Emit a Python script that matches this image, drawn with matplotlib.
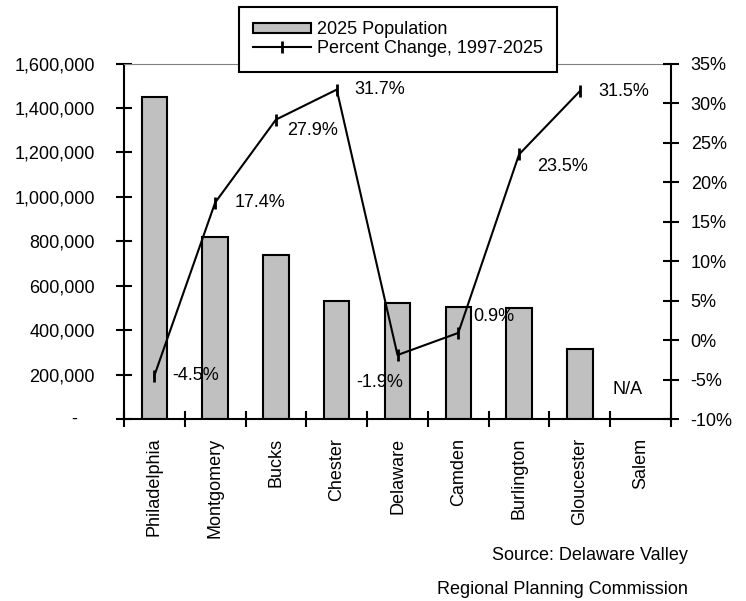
import numpy as np
import matplotlib
matplotlib.use('Agg')
from matplotlib import pyplot as plt
from matplotlib.ticker import FuncFormatter, MultipleLocator

plt.rcParams['font.family'] = ['Liberation Sans', 'DejaVu Sans']
plt.rcParams['font.size'] = 13

counties = ['Philadelphia', 'Montgomery', 'Bucks', 'Chester', 'Delaware',
            'Camden', 'Burlington', 'Gloucester', 'Salem']
pop_2025 = [1450000, 820000, 740000, 533000, 524000, 506000, 499000, 317000, np.nan]
pct_change = [-4.5, 17.4, 27.9, 31.7, -1.9, 0.9, 23.5, 31.5, np.nan]
pct_labels = ['-4.5%', '17.4%', '27.9%', '31.7%', '-1.9%', '0.9%', '23.5%', '31.5%', 'N/A']
# label offsets in points (dx, dy) from each point
label_offsets = [(13, 0), (14, 0), (8, -8), (13, 0), (-30, -20), (11, 12), (13, -9), (13, 0), (-20, 21)]

x = np.arange(len(counties))

fig = plt.figure(figsize=(7.46, 6.01), dpi=100)
ax = fig.add_axes([0.1662, 0.3028, 0.7333, 0.5915])
ax2 = ax.twinx()

ax.bar(x, pop_2025, width=0.42, color='#C0C0C0', edgecolor='black', linewidth=1.5,
       label='2025 Population')
ax2.plot(x, [v / 100 for v in pct_change], color='black', lw=1.5, marker='|',
         markersize=9, mew=2, label='Percent Change, 1997-2025')

for i, (lab, (dx, dy)) in enumerate(zip(pct_labels, label_offsets)):
    yv = pct_change[i] / 100 if not np.isnan(pct_change[i]) else -0.10
    ax2.annotate(lab, xy=(x[i], yv), xytext=(dx, dy), textcoords='offset points',
                 ha='left', va='center')

# left axis: population
ax.set_xlim(-0.5, len(counties) - 0.5)
ax.set_ylim(0, 1600000)
ax.yaxis.set_major_locator(MultipleLocator(200000))
ax.yaxis.set_major_formatter(FuncFormatter(lambda v, p: '' if v == 0 else f'{v:,.0f}'))
ax.annotate('-', xy=(0, 0), xycoords=('axes fraction', 'data'), xytext=(-36, 0),
            textcoords='offset points', ha='center', va='center')

# right axis: percent change
ax2.set_ylim(-0.10, 0.35)
ax2.yaxis.set_major_locator(MultipleLocator(0.05))
ax2.yaxis.set_major_formatter(FuncFormatter(lambda v, p: f'{round(v * 100):d}%'))

# category boundaries as major ticks, names on minor ticks
ax.set_xticks(np.arange(-0.5, len(counties), 1.0))
ax.set_xticks(x, minor=True)
ax.set_xticklabels(counties, minor=True, rotation=90)
ax.tick_params(axis='x', which='major', direction='inout', length=12, width=1.5,
               labelbottom=False)
ax.tick_params(axis='x', which='minor', length=0, pad=13.5)
ax.tick_params(axis='y', direction='inout', length=12, width=1.5, pad=15)
ax2.tick_params(axis='y', direction='inout', length=12, width=1.5, pad=8.2)

for s in ['left', 'bottom']:
    ax.spines[s].set_linewidth(1.5)
ax.spines['right'].set_visible(False)
ax.spines['top'].set_color('#808080')
ax.spines['top'].set_linewidth(0.8)
ax2.spines['right'].set_linewidth(1.5)
ax2.spines['top'].set_visible(False)
ax2.spines['left'].set_visible(False)
ax2.spines['bottom'].set_visible(False)

h1, l1 = ax.get_legend_handles_labels()
h2, l2 = ax2.get_legend_handles_labels()
leg = fig.legend(h1 + h2, l1 + l2, loc='upper left', bbox_to_anchor=(0.3204, 0.9884),
                 bbox_transform=fig.transFigure, borderaxespad=0, fancybox=False,
                 framealpha=1, edgecolor='black', handlelength=3.2, handleheight=0.55,
                 labelspacing=0.1, handletextpad=0.3, borderpad=0.8)
leg.get_frame().set_linewidth(1.5)

fig.text(688 / 746, 1 - 555 / 601, 'Source: Delaware Valley', ha='right', va='center')
fig.text(688 / 746, 1 - 590 / 601, 'Regional Planning Commission', ha='right', va='center')

fig.savefig('out.png', dpi=100)
